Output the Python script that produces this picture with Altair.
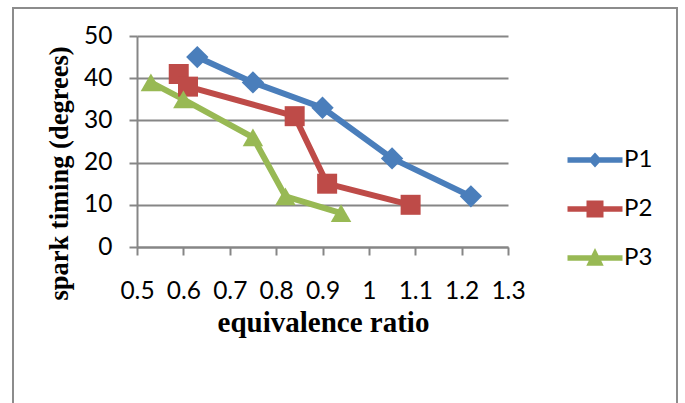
import altair as alt
import pandas as pd

series = ["P1", "P2", "P3"]
p1_x = [0.63, 0.75, 0.90, 1.05, 1.22]
p1_y = [45, 39, 33, 21, 12]
p2_x = [0.59, 0.61, 0.84, 0.91, 1.09]
p2_y = [41, 38, 31, 15, 10]
p3_x = [0.53, 0.60, 0.75, 0.82, 0.94]
p3_y = [39, 35, 26, 12, 8]
x_ticks = [0.5, 0.6, 0.7, 0.8, 0.9, 1.0, 1.1, 1.2, 1.3]
y_ticks = [0, 10, 20, 30, 40, 50]
colors = ["#4A7EBB", "#BE4B48", "#98B954"]

rows = []
for name, xs, ys in zip(series, [p1_x, p2_x, p3_x], [p1_y, p2_y, p3_y]):
    for i, (xv, yv) in enumerate(zip(xs, ys)):
        rows.append({"series": name, "ratio": xv, "timing": yv, "order": i})
df = pd.DataFrame(rows)

GRAY = "#868686"
x_scale = alt.Scale(domain=[0.5, 1.3], nice=False, zero=False)
y_scale = alt.Scale(domain=[0, 50], nice=False)
color_scale = alt.Scale(domain=series, range=colors)

x_enc = alt.X(
    "ratio:Q", scale=x_scale,
    axis=alt.Axis(values=x_ticks, format="~g", grid=False, title="equivalence ratio",
                  labelFont="Lato", labelFontSize=24.5, labelColor="black", labelPadding=24,
                  labelOverlap=False, labelFlush=False,
                  titleFont="Liberation Serif", titleFontSize=29, titleFontWeight="bold",
                  titleColor="black", titleBaseline="alphabetic", titleY=84, titleX=186),
)
y_enc = alt.Y(
    "timing:Q", scale=y_scale,
    axis=alt.Axis(values=y_ticks, grid=True, title="spark timing (degrees)",
                  labelFont="Lato", labelFontSize=24.5, labelColor="black", labelPadding=17,
                  labelOverlap=False, labelFlush=False,
                  titleFont="Liberation Serif", titleFontSize=26.5, titleFontWeight="bold",
                  titleColor="black", titleAngle=270, titleBaseline="alphabetic",
                  titleAlign="center", titleX=-70, titleY=137),
)

shapes = {"P1": ("diamond", 500), "P2": ("square", 400), "P3": ("triangle-up", 420)}
line_layers = []
point_layers = []
for s, col in zip(series, colors):
    shp, sz = shapes[s]
    line_layers.append(
        alt.Chart(df).transform_filter(alt.datum.series == s)
        .mark_line(strokeWidth=6, strokeJoin="round", strokeCap="round", color=col)
        .encode(x=x_enc, y=y_enc, order="order:Q")
    )
    point_layers.append(
        alt.Chart(df).transform_filter(alt.datum.series == s)
        .mark_point(filled=True, opacity=1, shape=shp, size=sz, strokeWidth=0, color=col)
        .encode(x=x_enc, y=y_enc)
    )

legend_paths = [
    "M-2.75,-0.27L2.75,-0.27L2.75,0.27L-2.75,0.27Z M0,-0.75L0.68,0L0,0.75L-0.68,0Z",
    "M-2.75,-0.27L2.75,-0.27L2.75,0.27L-2.75,0.27Z M-0.85,-0.85L0.85,-0.85L0.85,0.85L-0.85,0.85Z",
    "M-2.75,-0.27L2.75,-0.27L2.75,0.27L-2.75,0.27Z M0,-1L0.87,0.77L-0.87,0.77Z",
]
leg_props = dict(orient="none", legendX=446, legendY=112, title=None, symbolSize=400,
                 symbolStrokeWidth=0, labelFont="Lato", labelFontSize=24, labelColor="black",
                 labelOffset=17, rowPadding=25, padding=0, symbolOpacity=1)
legend_layer = alt.Chart(df).mark_point(filled=True, opacity=0).encode(
    x=x_enc, y=y_enc,
    color=alt.Color("series:N", scale=color_scale, legend=alt.Legend(**leg_props)),
    shape=alt.Shape("series:N", scale=alt.Scale(domain=series, range=legend_paths),
                    legend=alt.Legend(**leg_props)),
)

frame = alt.Chart(pd.DataFrame({"k": [0]})).mark_rect(
    fill="transparent", stroke="#8c8c8c", strokeWidth=2
).encode(x=alt.value(-124), x2=alt.value(540), y=alt.value(-28), y2=alt.value(390))

chart = alt.layer(frame, *line_layers, *point_layers, legend_layer).properties(
    width=371, height=211,
    autosize=alt.AutoSizeParams(type="none"),
    padding={"left": 137, "top": 36, "right": 177, "bottom": 156},
    background="white",
).configure_view(strokeWidth=0).configure_axis(
    gridColor=GRAY, gridWidth=2, domainColor=GRAY, domainWidth=2,
    tickColor=GRAY, tickWidth=2, tickSize=8,
)

chart.save("out.html", embed_options={"renderer": "svg", "actions": False})
